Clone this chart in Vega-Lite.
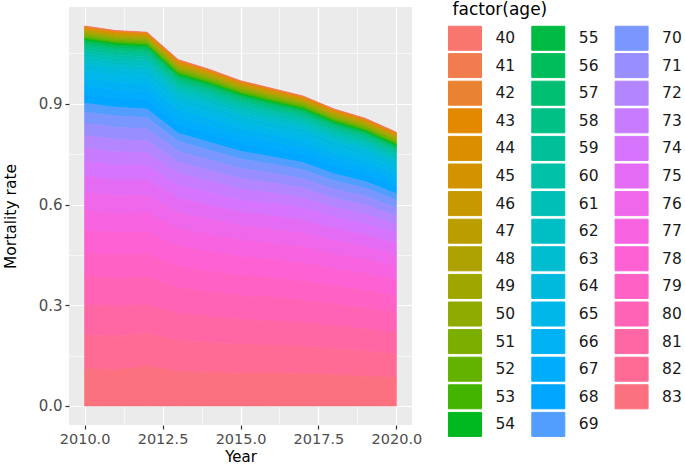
{
  "$schema": "https://vega.github.io/schema/vega-lite/v6.json",
  "width": 343,
  "height": 418,
  "autosize": {"type": "none"},
  "padding": {"left": 69, "top": 7, "right": 273, "bottom": 40},
  "background": "white",
  "config": {
    "view": {"fill": "#EBEBEB", "stroke": null},
    "font": "DejaVu Sans"
  },
  "data": {"values": [
    {"year":2010,"age":40,"rate":0.0015},{"year":2011,"age":40,"rate":0.0015},{"year":2012,"age":40,"rate":0.0015},{"year":2013,"age":40,"rate":0.0017},{"year":2014,"age":40,"rate":0.0016},{"year":2015,"age":40,"rate":0.0015},{"year":2016,"age":40,"rate":0.0015},{"year":2017,"age":40,"rate":0.0014},{"year":2018,"age":40,"rate":0.0014},{"year":2019,"age":40,"rate":0.0014},{"year":2020,"age":40,"rate":0.0014},
    {"year":2010,"age":41,"rate":0.0017},{"year":2011,"age":41,"rate":0.0017},{"year":2012,"age":41,"rate":0.0017},{"year":2013,"age":41,"rate":0.0019},{"year":2014,"age":41,"rate":0.0018},{"year":2015,"age":41,"rate":0.0017},{"year":2016,"age":41,"rate":0.0017},{"year":2017,"age":41,"rate":0.0016},{"year":2018,"age":41,"rate":0.0016},{"year":2019,"age":41,"rate":0.0016},{"year":2020,"age":41,"rate":0.0016},
    {"year":2010,"age":42,"rate":0.0018},{"year":2011,"age":42,"rate":0.0018},{"year":2012,"age":42,"rate":0.0018},{"year":2013,"age":42,"rate":0.0020},{"year":2014,"age":42,"rate":0.0019},{"year":2015,"age":42,"rate":0.0018},{"year":2016,"age":42,"rate":0.0018},{"year":2017,"age":42,"rate":0.0017},{"year":2018,"age":42,"rate":0.0017},{"year":2019,"age":42,"rate":0.0017},{"year":2020,"age":42,"rate":0.0017},
    {"year":2010,"age":43,"rate":0.0020},{"year":2011,"age":43,"rate":0.0020},{"year":2012,"age":43,"rate":0.0020},{"year":2013,"age":43,"rate":0.0022},{"year":2014,"age":43,"rate":0.0021},{"year":2015,"age":43,"rate":0.0020},{"year":2016,"age":43,"rate":0.0020},{"year":2017,"age":43,"rate":0.0019},{"year":2018,"age":43,"rate":0.0019},{"year":2019,"age":43,"rate":0.0019},{"year":2020,"age":43,"rate":0.0019},
    {"year":2010,"age":44,"rate":0.0022},{"year":2011,"age":44,"rate":0.0022},{"year":2012,"age":44,"rate":0.0022},{"year":2013,"age":44,"rate":0.0024},{"year":2014,"age":44,"rate":0.0023},{"year":2015,"age":44,"rate":0.0022},{"year":2016,"age":44,"rate":0.0022},{"year":2017,"age":44,"rate":0.0021},{"year":2018,"age":44,"rate":0.0021},{"year":2019,"age":44,"rate":0.0021},{"year":2020,"age":44,"rate":0.0021},
    {"year":2010,"age":45,"rate":0.0024},{"year":2011,"age":45,"rate":0.0024},{"year":2012,"age":45,"rate":0.0024},{"year":2013,"age":45,"rate":0.0026},{"year":2014,"age":45,"rate":0.0025},{"year":2015,"age":45,"rate":0.0024},{"year":2016,"age":45,"rate":0.0024},{"year":2017,"age":45,"rate":0.0023},{"year":2018,"age":45,"rate":0.0023},{"year":2019,"age":45,"rate":0.0023},{"year":2020,"age":45,"rate":0.0023},
    {"year":2010,"age":46,"rate":0.0026},{"year":2011,"age":46,"rate":0.0026},{"year":2012,"age":46,"rate":0.0026},{"year":2013,"age":46,"rate":0.0029},{"year":2014,"age":46,"rate":0.0027},{"year":2015,"age":46,"rate":0.0026},{"year":2016,"age":46,"rate":0.0026},{"year":2017,"age":46,"rate":0.0025},{"year":2018,"age":46,"rate":0.0025},{"year":2019,"age":46,"rate":0.0025},{"year":2020,"age":46,"rate":0.0025},
    {"year":2010,"age":47,"rate":0.0028},{"year":2011,"age":47,"rate":0.0028},{"year":2012,"age":47,"rate":0.0028},{"year":2013,"age":47,"rate":0.0031},{"year":2014,"age":47,"rate":0.0029},{"year":2015,"age":47,"rate":0.0028},{"year":2016,"age":47,"rate":0.0028},{"year":2017,"age":47,"rate":0.0027},{"year":2018,"age":47,"rate":0.0027},{"year":2019,"age":47,"rate":0.0027},{"year":2020,"age":47,"rate":0.0027},
    {"year":2010,"age":48,"rate":0.0030},{"year":2011,"age":48,"rate":0.0030},{"year":2012,"age":48,"rate":0.0030},{"year":2013,"age":48,"rate":0.0033},{"year":2014,"age":48,"rate":0.0032},{"year":2015,"age":48,"rate":0.0030},{"year":2016,"age":48,"rate":0.0030},{"year":2017,"age":48,"rate":0.0029},{"year":2018,"age":48,"rate":0.0029},{"year":2019,"age":48,"rate":0.0029},{"year":2020,"age":48,"rate":0.0029},
    {"year":2010,"age":49,"rate":0.0032},{"year":2011,"age":49,"rate":0.0032},{"year":2012,"age":49,"rate":0.0032},{"year":2013,"age":49,"rate":0.0035},{"year":2014,"age":49,"rate":0.0034},{"year":2015,"age":49,"rate":0.0032},{"year":2016,"age":49,"rate":0.0032},{"year":2017,"age":49,"rate":0.0030},{"year":2018,"age":49,"rate":0.0030},{"year":2019,"age":49,"rate":0.0030},{"year":2020,"age":49,"rate":0.0030},
    {"year":2010,"age":50,"rate":0.0035},{"year":2011,"age":50,"rate":0.0035},{"year":2012,"age":50,"rate":0.0035},{"year":2013,"age":50,"rate":0.0039},{"year":2014,"age":50,"rate":0.0037},{"year":2015,"age":50,"rate":0.0035},{"year":2016,"age":50,"rate":0.0035},{"year":2017,"age":50,"rate":0.0033},{"year":2018,"age":50,"rate":0.0033},{"year":2019,"age":50,"rate":0.0033},{"year":2020,"age":50,"rate":0.0033},
    {"year":2010,"age":51,"rate":0.0038},{"year":2011,"age":51,"rate":0.0038},{"year":2012,"age":51,"rate":0.0038},{"year":2013,"age":51,"rate":0.0042},{"year":2014,"age":51,"rate":0.0040},{"year":2015,"age":51,"rate":0.0038},{"year":2016,"age":51,"rate":0.0038},{"year":2017,"age":51,"rate":0.0036},{"year":2018,"age":51,"rate":0.0036},{"year":2019,"age":51,"rate":0.0036},{"year":2020,"age":51,"rate":0.0036},
    {"year":2010,"age":52,"rate":0.0040},{"year":2011,"age":52,"rate":0.0040},{"year":2012,"age":52,"rate":0.0040},{"year":2013,"age":52,"rate":0.0044},{"year":2014,"age":52,"rate":0.0042},{"year":2015,"age":52,"rate":0.0040},{"year":2016,"age":52,"rate":0.0040},{"year":2017,"age":52,"rate":0.0038},{"year":2018,"age":52,"rate":0.0038},{"year":2019,"age":52,"rate":0.0038},{"year":2020,"age":52,"rate":0.0038},
    {"year":2010,"age":53,"rate":0.0045},{"year":2011,"age":53,"rate":0.0045},{"year":2012,"age":53,"rate":0.0045},{"year":2013,"age":53,"rate":0.0050},{"year":2014,"age":53,"rate":0.0047},{"year":2015,"age":53,"rate":0.0045},{"year":2016,"age":53,"rate":0.0045},{"year":2017,"age":53,"rate":0.0043},{"year":2018,"age":53,"rate":0.0043},{"year":2019,"age":53,"rate":0.0043},{"year":2020,"age":53,"rate":0.0043},
    {"year":2010,"age":54,"rate":0.0040},{"year":2011,"age":54,"rate":0.0040},{"year":2012,"age":54,"rate":0.0040},{"year":2013,"age":54,"rate":0.0036},{"year":2014,"age":54,"rate":0.0036},{"year":2015,"age":54,"rate":0.0035},{"year":2016,"age":54,"rate":0.0034},{"year":2017,"age":54,"rate":0.0033},{"year":2018,"age":54,"rate":0.0032},{"year":2019,"age":54,"rate":0.0030},{"year":2020,"age":54,"rate":0.0029},
    {"year":2010,"age":55,"rate":0.0040},{"year":2011,"age":55,"rate":0.0040},{"year":2012,"age":55,"rate":0.0040},{"year":2013,"age":55,"rate":0.0036},{"year":2014,"age":55,"rate":0.0036},{"year":2015,"age":55,"rate":0.0035},{"year":2016,"age":55,"rate":0.0034},{"year":2017,"age":55,"rate":0.0033},{"year":2018,"age":55,"rate":0.0032},{"year":2019,"age":55,"rate":0.0030},{"year":2020,"age":55,"rate":0.0029},
    {"year":2010,"age":56,"rate":0.0050},{"year":2011,"age":56,"rate":0.0050},{"year":2012,"age":56,"rate":0.0050},{"year":2013,"age":56,"rate":0.0046},{"year":2014,"age":56,"rate":0.0046},{"year":2015,"age":56,"rate":0.0044},{"year":2016,"age":56,"rate":0.0042},{"year":2017,"age":56,"rate":0.0041},{"year":2018,"age":56,"rate":0.0040},{"year":2019,"age":56,"rate":0.0038},{"year":2020,"age":56,"rate":0.0037},
    {"year":2010,"age":57,"rate":0.0060},{"year":2011,"age":57,"rate":0.0060},{"year":2012,"age":57,"rate":0.0060},{"year":2013,"age":57,"rate":0.0055},{"year":2014,"age":57,"rate":0.0055},{"year":2015,"age":57,"rate":0.0053},{"year":2016,"age":57,"rate":0.0050},{"year":2017,"age":57,"rate":0.0050},{"year":2018,"age":57,"rate":0.0047},{"year":2019,"age":57,"rate":0.0046},{"year":2020,"age":57,"rate":0.0044},
    {"year":2010,"age":58,"rate":0.0070},{"year":2011,"age":58,"rate":0.0070},{"year":2012,"age":58,"rate":0.0070},{"year":2013,"age":58,"rate":0.0064},{"year":2014,"age":58,"rate":0.0064},{"year":2015,"age":58,"rate":0.0062},{"year":2016,"age":58,"rate":0.0059},{"year":2017,"age":58,"rate":0.0057},{"year":2018,"age":58,"rate":0.0055},{"year":2019,"age":58,"rate":0.0053},{"year":2020,"age":58,"rate":0.0051},
    {"year":2010,"age":59,"rate":0.0080},{"year":2011,"age":59,"rate":0.0080},{"year":2012,"age":59,"rate":0.0080},{"year":2013,"age":59,"rate":0.0073},{"year":2014,"age":59,"rate":0.0073},{"year":2015,"age":59,"rate":0.0070},{"year":2016,"age":59,"rate":0.0067},{"year":2017,"age":59,"rate":0.0066},{"year":2018,"age":59,"rate":0.0063},{"year":2019,"age":59,"rate":0.0061},{"year":2020,"age":59,"rate":0.0058},
    {"year":2010,"age":60,"rate":0.0090},{"year":2011,"age":60,"rate":0.0090},{"year":2012,"age":60,"rate":0.0090},{"year":2013,"age":60,"rate":0.0082},{"year":2014,"age":60,"rate":0.0082},{"year":2015,"age":60,"rate":0.0079},{"year":2016,"age":60,"rate":0.0076},{"year":2017,"age":60,"rate":0.0074},{"year":2018,"age":60,"rate":0.0071},{"year":2019,"age":60,"rate":0.0068},{"year":2020,"age":60,"rate":0.0066},
    {"year":2010,"age":61,"rate":0.0100},{"year":2011,"age":61,"rate":0.0099},{"year":2012,"age":61,"rate":0.0099},{"year":2013,"age":61,"rate":0.0091},{"year":2014,"age":61,"rate":0.0091},{"year":2015,"age":61,"rate":0.0088},{"year":2016,"age":61,"rate":0.0084},{"year":2017,"age":61,"rate":0.0082},{"year":2018,"age":61,"rate":0.0079},{"year":2019,"age":61,"rate":0.0076},{"year":2020,"age":61,"rate":0.0073},
    {"year":2010,"age":62,"rate":0.0110},{"year":2011,"age":62,"rate":0.0109},{"year":2012,"age":62,"rate":0.0109},{"year":2013,"age":62,"rate":0.0100},{"year":2014,"age":62,"rate":0.0100},{"year":2015,"age":62,"rate":0.0097},{"year":2016,"age":62,"rate":0.0092},{"year":2017,"age":62,"rate":0.0090},{"year":2018,"age":62,"rate":0.0087},{"year":2019,"age":62,"rate":0.0084},{"year":2020,"age":62,"rate":0.0080},
    {"year":2010,"age":63,"rate":0.0120},{"year":2011,"age":63,"rate":0.0119},{"year":2012,"age":63,"rate":0.0119},{"year":2013,"age":63,"rate":0.0109},{"year":2014,"age":63,"rate":0.0109},{"year":2015,"age":63,"rate":0.0106},{"year":2016,"age":63,"rate":0.0101},{"year":2017,"age":63,"rate":0.0098},{"year":2018,"age":63,"rate":0.0095},{"year":2019,"age":63,"rate":0.0091},{"year":2020,"age":63,"rate":0.0088},
    {"year":2010,"age":64,"rate":0.0190},{"year":2011,"age":64,"rate":0.0189},{"year":2012,"age":64,"rate":0.0189},{"year":2013,"age":64,"rate":0.0177},{"year":2014,"age":64,"rate":0.0177},{"year":2015,"age":64,"rate":0.0173},{"year":2016,"age":64,"rate":0.0168},{"year":2017,"age":64,"rate":0.0165},{"year":2018,"age":64,"rate":0.0161},{"year":2019,"age":64,"rate":0.0156},{"year":2020,"age":64,"rate":0.0152},
    {"year":2010,"age":65,"rate":0.0210},{"year":2011,"age":65,"rate":0.0208},{"year":2012,"age":65,"rate":0.0208},{"year":2013,"age":65,"rate":0.0196},{"year":2014,"age":65,"rate":0.0196},{"year":2015,"age":65,"rate":0.0191},{"year":2016,"age":65,"rate":0.0184},{"year":2017,"age":65,"rate":0.0181},{"year":2018,"age":65,"rate":0.0176},{"year":2019,"age":65,"rate":0.0172},{"year":2020,"age":65,"rate":0.0167},
    {"year":2010,"age":66,"rate":0.0230},{"year":2011,"age":66,"rate":0.0228},{"year":2012,"age":66,"rate":0.0228},{"year":2013,"age":66,"rate":0.0214},{"year":2014,"age":66,"rate":0.0214},{"year":2015,"age":66,"rate":0.0208},{"year":2016,"age":66,"rate":0.0201},{"year":2017,"age":66,"rate":0.0198},{"year":2018,"age":66,"rate":0.0192},{"year":2019,"age":66,"rate":0.0187},{"year":2020,"age":66,"rate":0.0181},
    {"year":2010,"age":67,"rate":0.0250},{"year":2011,"age":67,"rate":0.0248},{"year":2012,"age":67,"rate":0.0248},{"year":2013,"age":67,"rate":0.0232},{"year":2014,"age":67,"rate":0.0232},{"year":2015,"age":67,"rate":0.0226},{"year":2016,"age":67,"rate":0.0218},{"year":2017,"age":67,"rate":0.0214},{"year":2018,"age":67,"rate":0.0208},{"year":2019,"age":67,"rate":0.0202},{"year":2020,"age":67,"rate":0.0196},
    {"year":2010,"age":68,"rate":0.0270},{"year":2011,"age":68,"rate":0.0268},{"year":2012,"age":68,"rate":0.0268},{"year":2013,"age":68,"rate":0.0250},{"year":2014,"age":68,"rate":0.0250},{"year":2015,"age":68,"rate":0.0244},{"year":2016,"age":68,"rate":0.0235},{"year":2017,"age":68,"rate":0.0230},{"year":2018,"age":68,"rate":0.0224},{"year":2019,"age":68,"rate":0.0217},{"year":2020,"age":68,"rate":0.0211},
    {"year":2010,"age":69,"rate":0.0260},{"year":2011,"age":69,"rate":0.0257},{"year":2012,"age":69,"rate":0.0257},{"year":2013,"age":69,"rate":0.0237},{"year":2014,"age":69,"rate":0.0237},{"year":2015,"age":69,"rate":0.0229},{"year":2016,"age":69,"rate":0.0218},{"year":2017,"age":69,"rate":0.0213},{"year":2018,"age":69,"rate":0.0205},{"year":2019,"age":69,"rate":0.0198},{"year":2020,"age":69,"rate":0.0190},
    {"year":2010,"age":70,"rate":0.034},{"year":2011,"age":70,"rate":0.034},{"year":2012,"age":70,"rate":0.033},{"year":2013,"age":70,"rate":0.030},{"year":2014,"age":70,"rate":0.029},{"year":2015,"age":70,"rate":0.028},{"year":2016,"age":70,"rate":0.027},{"year":2017,"age":70,"rate":0.027},{"year":2018,"age":70,"rate":0.025},{"year":2019,"age":70,"rate":0.024},{"year":2020,"age":70,"rate":0.023},
    {"year":2010,"age":71,"rate":0.036},{"year":2011,"age":71,"rate":0.036},{"year":2012,"age":71,"rate":0.035},{"year":2013,"age":71,"rate":0.032},{"year":2014,"age":71,"rate":0.031},{"year":2015,"age":71,"rate":0.030},{"year":2016,"age":71,"rate":0.029},{"year":2017,"age":71,"rate":0.028},{"year":2018,"age":71,"rate":0.027},{"year":2019,"age":71,"rate":0.026},{"year":2020,"age":71,"rate":0.024},
    {"year":2010,"age":72,"rate":0.037},{"year":2011,"age":72,"rate":0.037},{"year":2012,"age":72,"rate":0.036},{"year":2013,"age":72,"rate":0.033},{"year":2014,"age":72,"rate":0.032},{"year":2015,"age":72,"rate":0.031},{"year":2016,"age":72,"rate":0.030},{"year":2017,"age":72,"rate":0.029},{"year":2018,"age":72,"rate":0.027},{"year":2019,"age":72,"rate":0.027},{"year":2020,"age":72,"rate":0.025},
    {"year":2010,"age":73,"rate":0.040},{"year":2011,"age":73,"rate":0.040},{"year":2012,"age":73,"rate":0.039},{"year":2013,"age":73,"rate":0.036},{"year":2014,"age":73,"rate":0.034},{"year":2015,"age":73,"rate":0.033},{"year":2016,"age":73,"rate":0.032},{"year":2017,"age":73,"rate":0.031},{"year":2018,"age":73,"rate":0.030},{"year":2019,"age":73,"rate":0.029},{"year":2020,"age":73,"rate":0.027},
    {"year":2010,"age":74,"rate":0.044},{"year":2011,"age":74,"rate":0.044},{"year":2012,"age":74,"rate":0.043},{"year":2013,"age":74,"rate":0.039},{"year":2014,"age":74,"rate":0.038},{"year":2015,"age":74,"rate":0.036},{"year":2016,"age":74,"rate":0.036},{"year":2017,"age":74,"rate":0.035},{"year":2018,"age":74,"rate":0.033},{"year":2019,"age":74,"rate":0.032},{"year":2020,"age":74,"rate":0.030},
    {"year":2010,"age":75,"rate":0.048},{"year":2011,"age":75,"rate":0.047},{"year":2012,"age":75,"rate":0.046},{"year":2013,"age":75,"rate":0.043},{"year":2014,"age":75,"rate":0.041},{"year":2015,"age":75,"rate":0.040},{"year":2016,"age":75,"rate":0.039},{"year":2017,"age":75,"rate":0.038},{"year":2018,"age":75,"rate":0.036},{"year":2019,"age":75,"rate":0.035},{"year":2020,"age":75,"rate":0.033},
    {"year":2010,"age":76,"rate":0.053},{"year":2011,"age":76,"rate":0.052},{"year":2012,"age":76,"rate":0.051},{"year":2013,"age":76,"rate":0.047},{"year":2014,"age":76,"rate":0.046},{"year":2015,"age":76,"rate":0.044},{"year":2016,"age":76,"rate":0.043},{"year":2017,"age":76,"rate":0.042},{"year":2018,"age":76,"rate":0.040},{"year":2019,"age":76,"rate":0.038},{"year":2020,"age":76,"rate":0.036},
    {"year":2010,"age":77,"rate":0.059},{"year":2011,"age":77,"rate":0.058},{"year":2012,"age":77,"rate":0.057},{"year":2013,"age":77,"rate":0.053},{"year":2014,"age":77,"rate":0.051},{"year":2015,"age":77,"rate":0.049},{"year":2016,"age":77,"rate":0.048},{"year":2017,"age":77,"rate":0.047},{"year":2018,"age":77,"rate":0.044},{"year":2019,"age":77,"rate":0.043},{"year":2020,"age":77,"rate":0.040},
    {"year":2010,"age":78,"rate":0.067},{"year":2011,"age":78,"rate":0.066},{"year":2012,"age":78,"rate":0.065},{"year":2013,"age":78,"rate":0.060},{"year":2014,"age":78,"rate":0.058},{"year":2015,"age":78,"rate":0.056},{"year":2016,"age":78,"rate":0.055},{"year":2017,"age":78,"rate":0.054},{"year":2018,"age":78,"rate":0.051},{"year":2019,"age":78,"rate":0.050},{"year":2020,"age":78,"rate":0.047},
    {"year":2010,"age":79,"rate":0.071},{"year":2011,"age":79,"rate":0.070},{"year":2012,"age":79,"rate":0.069},{"year":2013,"age":79,"rate":0.064},{"year":2014,"age":79,"rate":0.062},{"year":2015,"age":79,"rate":0.060},{"year":2016,"age":79,"rate":0.058},{"year":2017,"age":79,"rate":0.057},{"year":2018,"age":79,"rate":0.054},{"year":2019,"age":79,"rate":0.053},{"year":2020,"age":79,"rate":0.050},
    {"year":2010,"age":80,"rate":0.085},{"year":2011,"age":80,"rate":0.084},{"year":2012,"age":80,"rate":0.082},{"year":2013,"age":80,"rate":0.077},{"year":2014,"age":80,"rate":0.074},{"year":2015,"age":80,"rate":0.071},{"year":2016,"age":80,"rate":0.070},{"year":2017,"age":80,"rate":0.068},{"year":2018,"age":80,"rate":0.065},{"year":2019,"age":80,"rate":0.063},{"year":2020,"age":80,"rate":0.060},
    {"year":2010,"age":81,"rate":0.089},{"year":2011,"age":81,"rate":0.088},{"year":2012,"age":81,"rate":0.086},{"year":2013,"age":81,"rate":0.080},{"year":2014,"age":81,"rate":0.077},{"year":2015,"age":81,"rate":0.075},{"year":2016,"age":81,"rate":0.073},{"year":2017,"age":81,"rate":0.071},{"year":2018,"age":81,"rate":0.068},{"year":2019,"age":81,"rate":0.066},{"year":2020,"age":81,"rate":0.062},
    {"year":2010,"age":82,"rate":0.102},{"year":2011,"age":82,"rate":0.101},{"year":2012,"age":82,"rate":0.099},{"year":2013,"age":82,"rate":0.092},{"year":2014,"age":82,"rate":0.089},{"year":2015,"age":82,"rate":0.086},{"year":2016,"age":82,"rate":0.084},{"year":2017,"age":82,"rate":0.082},{"year":2018,"age":82,"rate":0.078},{"year":2019,"age":82,"rate":0.075},{"year":2020,"age":82,"rate":0.071},
    {"year":2010,"age":83,"rate":0.111},{"year":2011,"age":83,"rate":0.107},{"year":2012,"age":83,"rate":0.118},{"year":2013,"age":83,"rate":0.103},{"year":2014,"age":83,"rate":0.100},{"year":2015,"age":83,"rate":0.097},{"year":2016,"age":83,"rate":0.097},{"year":2017,"age":83,"rate":0.095},{"year":2018,"age":83,"rate":0.093},{"year":2019,"age":83,"rate":0.088},{"year":2020,"age":83,"rate":0.085}
  ]},
  "mark": {"type": "area", "interpolate": "linear", "strokeWidth": 0.7},
  "encoding": {
    "x": {
      "field": "year", "type": "quantitative",
      "scale": {"domain": [2009.5, 2020.5], "nice": false, "zero": false},
      "axis": {
        "title": "Year",
        "values": [2010, 2011.25, 2012.5, 2013.75, 2015, 2016.25, 2017.5, 2018.75, 2020],
        "labelExpr": "datum.value % 2.5 == 0 ? format(datum.value, '.1f') : ''",
        "domain": false,
        "grid": true,
        "gridColor": "white",
        "gridWidth": {"condition": {"test": "datum.value % 2.5 == 0", "value": 1.2}, "value": 0.6},
        "tickOpacity": {"condition": {"test": "datum.value % 2.5 == 0", "value": 1}, "value": 0},
        "tickColor": "#333333",
        "tickSize": 4,
        "tickWidth": 1.2,
        "labelFont": "DejaVu Sans",
        "labelFontSize": 14.5,
        "labelColor": "#4D4D4D",
        "labelPadding": 3,
        "labelFlush": false,
        "labelOverlap": false,
        "titleFont": "DejaVu Sans",
        "titleFontSize": 15,
        "titleFontWeight": "normal",
        "titleColor": "#000000",
        "titlePadding": 4
      }
    },
    "y": {
      "field": "rate", "type": "quantitative", "stack": "zero",
      "scale": {"domain": [-0.0566, 1.1885], "nice": false, "zero": false},
      "axis": {
        "title": "Mortality rate",
        "values": [0, 0.15, 0.3, 0.45, 0.6, 0.75, 0.9, 1.05],
        "labelExpr": "round(datum.value * 100) % 30 == 0 ? format(datum.value, '.1f') : ''",
        "domain": false,
        "grid": true,
        "gridColor": "white",
        "gridWidth": {"condition": {"test": "round(datum.value * 100) % 30 == 0", "value": 1.2}, "value": 0.6},
        "tickOpacity": {"condition": {"test": "round(datum.value * 100) % 30 == 0", "value": 1}, "value": 0},
        "tickColor": "#333333",
        "tickSize": 4,
        "tickWidth": 1.2,
        "labelFont": "DejaVu Sans",
        "labelFontSize": 15,
        "labelColor": "#4D4D4D",
        "labelPadding": 3,
        "labelOverlap": false,
        "titleFont": "DejaVu Sans",
        "titleFontSize": 15.5,
        "titleFontWeight": "normal",
        "titleColor": "#000000",
        "titlePadding": 20
      }
    },
    "color": {
      "field": "age", "type": "nominal",
      "scale": {
        "domain": [40,41,42,43,44,45,46,47,48,49,50,51,52,53,54,55,56,57,58,59,60,61,62,63,64,65,66,67,68,69,70,71,72,73,74,75,76,77,78,79,80,81,82,83],
        "range": ["#F8766D","#F17D4F","#EA8331","#E38900","#DB8E00","#D39200","#C89800","#BB9D00","#AEA200","#A0A600","#8FAA00","#7CAE00","#64B200","#42B500","#00B81F","#00BB43","#00BD5C","#00BF72","#00C086","#00C097","#00C1A7","#00C0B5","#00BFC4","#00BDD0","#00BADE","#00B7E9","#00B2F3","#00ACFC","#00A6FF","#529EFF","#7997FF","#998EFF","#B385FF","#C77CFF","#D774FD","#E46CF5","#EF67EB","#F763E0","#FD61D3","#FF61C5","#FF63B6","#FF67A4","#FF6B94","#FC717F"]
      },
      "legend": {
        "title": "factor(age)",
        "orient": "none",
        "legendX": 383.5,
        "legendY": -5,
        "direction": "vertical",
        "columns": 3,
        "symbolLimit": 0,
        "columnPadding": 14.3,
        "rowPadding": -1.4,
        "padding": 0,
        "symbolType": "M-1.375,-1H1.375V1H-1.375Z",
        "symbolSize": 576,
        "symbolStrokeColor": "white",
        "symbolStrokeWidth": 1,
        "symbolOpacity": 1,
        "labelFont": "DejaVu Sans",
        "labelFontSize": 15.5,
        "labelColor": "#1A1A1A",
        "labelOffset": 18,
        "titleFont": "DejaVu Sans",
        "titleFontSize": 17,
        "titleFontWeight": "normal",
        "titleColor": "#000000",
        "titlePadding": 6.5
      }
    },
    "stroke": {
      "field": "age", "type": "nominal", "legend": null,
      "scale": {
        "domain": [40,41,42,43,44,45,46,47,48,49,50,51,52,53,54,55,56,57,58,59,60,61,62,63,64,65,66,67,68,69,70,71,72,73,74,75,76,77,78,79,80,81,82,83],
        "range": ["#F8766D","#F17D4F","#EA8331","#E38900","#DB8E00","#D39200","#C89800","#BB9D00","#AEA200","#A0A600","#8FAA00","#7CAE00","#64B200","#42B500","#00B81F","#00BB43","#00BD5C","#00BF72","#00C086","#00C097","#00C1A7","#00C0B5","#00BFC4","#00BDD0","#00BADE","#00B7E9","#00B2F3","#00ACFC","#00A6FF","#529EFF","#7997FF","#998EFF","#B385FF","#C77CFF","#D774FD","#E46CF5","#EF67EB","#F763E0","#FD61D3","#FF61C5","#FF63B6","#FF67A4","#FF6B94","#FC717F"]
      }
    },
    "order": {"field": "age", "sort": "descending"}
  }
}
